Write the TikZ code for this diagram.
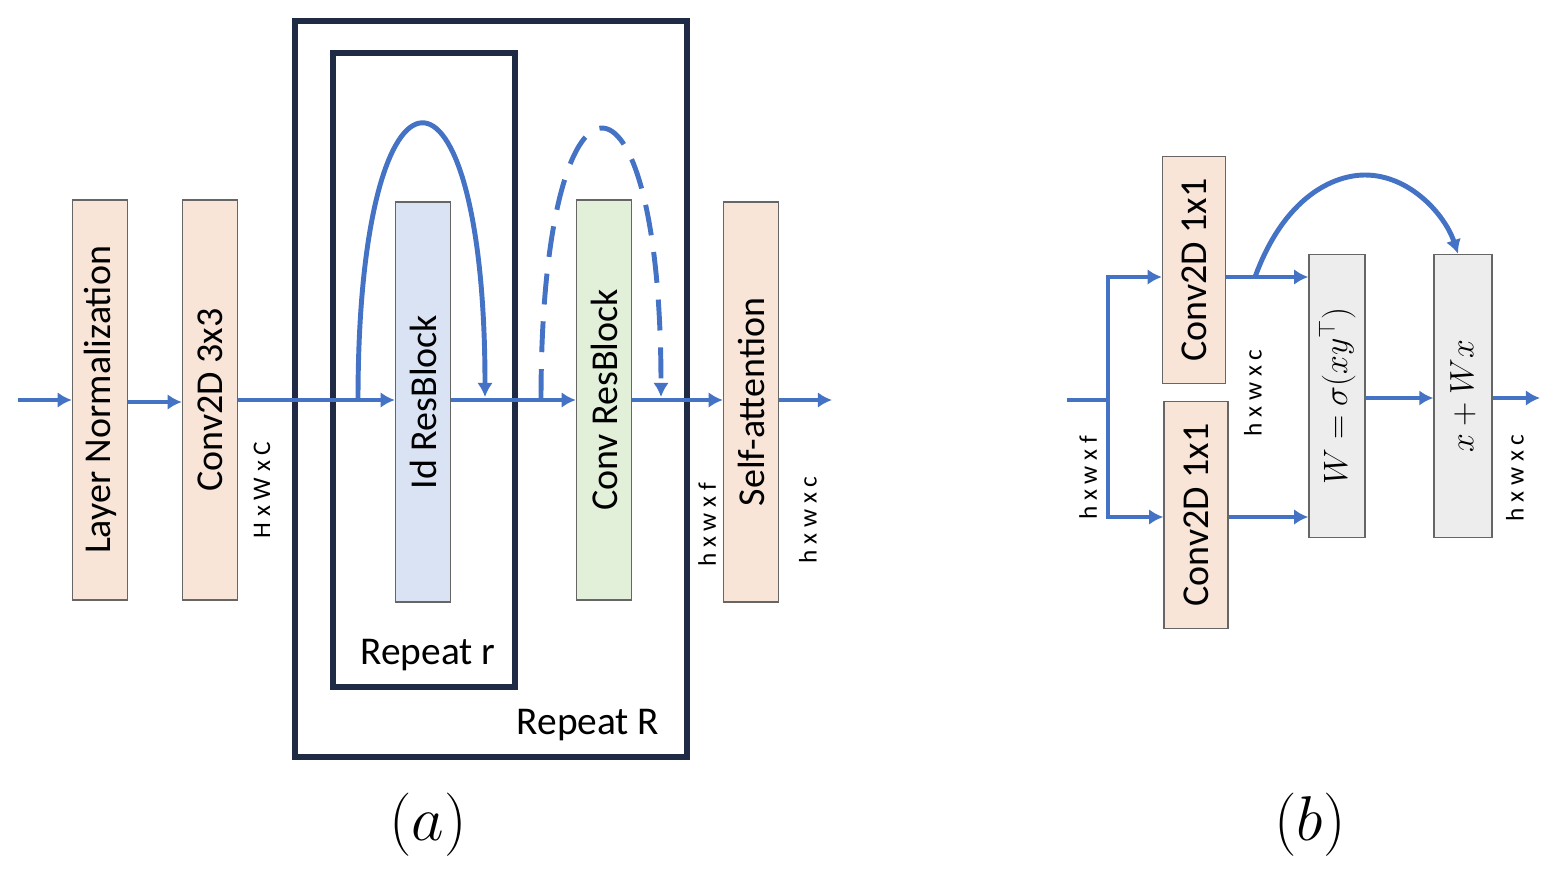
\documentclass[tikz,border=0pt]{standalone}
\usepackage{fix-cm}
\usepackage{fontspec}
\setsansfont{Carlito}
\usetikzlibrary{arrows.meta,positioning,calc}
\definecolor{peach}{HTML}{F8E5D8}
\definecolor{idblue}{HTML}{DAE3F3}
\definecolor{cgreen}{HTML}{E2F0D9}
\definecolor{attgray}{HTML}{EDEDED}
\definecolor{lnk}{HTML}{4472C4}
\definecolor{navy}{HTML}{1F2A44}
\tikzset{
blk/.style={
  draw=gray!80!black, line width=1pt, rotate=90,
  minimum width=10cm, minimum height=1.375cm,
  font=\fontsize{27}{29}\sffamily, inner sep=0pt
  },
frm/.style={draw=navy, line width=4pt},
flow/.style={draw=lnk, line width=3.5pt, -{Latex[length=10pt,width=11pt]}},
dim/.style={rotate=90, font=\fontsize{18}{20}\sffamily}
}
\begin{document}
\begin{tikzpicture}[x=0.025cm,y=-0.025cm]
\useasboundingbox (0,0) rectangle (1556,890);

% panel (a)
\draw[frm] (295,21) rectangle (687,757);
\draw[frm] (333,53) rectangle (515,687);
\node (rR) at (588,725) {\fontsize{28}{30}\sffamily Repeat R};
\node (rr) at (428,655) {\fontsize{28}{30}\sffamily Repeat r};

\node[blk, fill=peach] (ln) at (100,400) {Layer Normalization};
\node[blk, fill=peach] (c33) at (210,400) {Conv2D 3x3};
\node[blk, fill=idblue] (id) at (423,402) {Id ResBlock};
\node[blk, fill=cgreen] (cr) at (604,400) {Conv ResBlock};
\node[blk, fill=peach] (sa) at (751,402) {Self-attention};

\coordinate (in) at (18,400);
\coordinate (out) at (832,400);
\draw[flow] (in) -- (ln.north |- in);
\draw[flow] (ln.south |- 0,402) -- (c33.north |- 0,402);
\draw[flow] (c33.south |- 0,400) -- (id.north |- 0,400);
\draw[flow] (id.south |- 0,400) -- (cr.north |- 0,400);
\draw[flow] (cr.south |- 0,400) -- (sa.north |- 0,400);
\draw[flow] (sa.south |- out) -- (out);

\coordinate (ida) at (358,400);
\coordinate (idb) at (485,397);
\draw[flow] (ida) .. controls (358,33) and (485,33) .. (idb);
\coordinate (cra) at (541,400);
\coordinate (crb) at (661,397);
\draw[flow, dash pattern=on 22pt off 12pt] (cra) .. controls (541,40) and (661,40) .. (crb);

\node[dim] (d1) at (262,490) {H x W x C};
\node[dim] (d2) at (707,525) {h x w x f};
\node[dim] (d3) at (808,520) {h x w x c};
\node (la) at (428,825) {\fontsize{45}{48}\selectfont$(a)$};

% panel (b)
\node[blk, fill=peach, minimum width=5.675cm, minimum height=1.575cm] (qa) at (1194,270) {Conv2D 1x1};
\node[blk, fill=peach, minimum width=5.675cm, minimum height=1.6cm] (qb) at (1196,515) {Conv2D 1x1};
\node[blk, fill=attgray, minimum width=7.075cm, minimum height=1.4cm,
      font=\fontsize{24}{26}\selectfont] (att) at (1337,396) {$W=\sigma(xy^{\top})$};
\node[blk, fill=attgray, minimum width=7.075cm, minimum height=1.45cm,
      font=\fontsize{24}{26}\selectfont] (res) at (1463,396) {$x+Wx$};

\coordinate (bin) at (1067,400);
\coordinate (bsp) at (1108,400);
\coordinate (bout) at (1540,398);
\draw[lnk, line width=3.5pt] (bin) -- (bsp);
\draw[flow] (bsp) |- (qa.north |- 0,277);
\draw[flow] (bsp) |- (qb.north |- 0,517);
\draw[flow] (qa.south |- 0,277) -- (att.north |- 0,277);
\draw[flow] (qb.south |- 0,517) -- (att.north |- 0,517);
\coordinate (skp) at (1255,277);
\draw[flow] (skp) .. controls (1285,195) and (1335,175) .. (1365,175)
                  .. controls (1410,175) and (1445,215) .. (res.east -| 1458,0);
\draw[flow] (att.south |- 0,398) -- (res.north |- 0,398);
\draw[flow] (res.south |- bout) -- (bout);

\node[dim] (d4) at (1088,478) {h x w x f};
\node[dim] (d5) at (1253,393) {h x w x c};
\node[dim] (d6) at (1515,478) {h x w x c};
\node (lb) at (1310,825) {\fontsize{45}{48}\selectfont$(b)$};
\end{tikzpicture}
\end{document}
